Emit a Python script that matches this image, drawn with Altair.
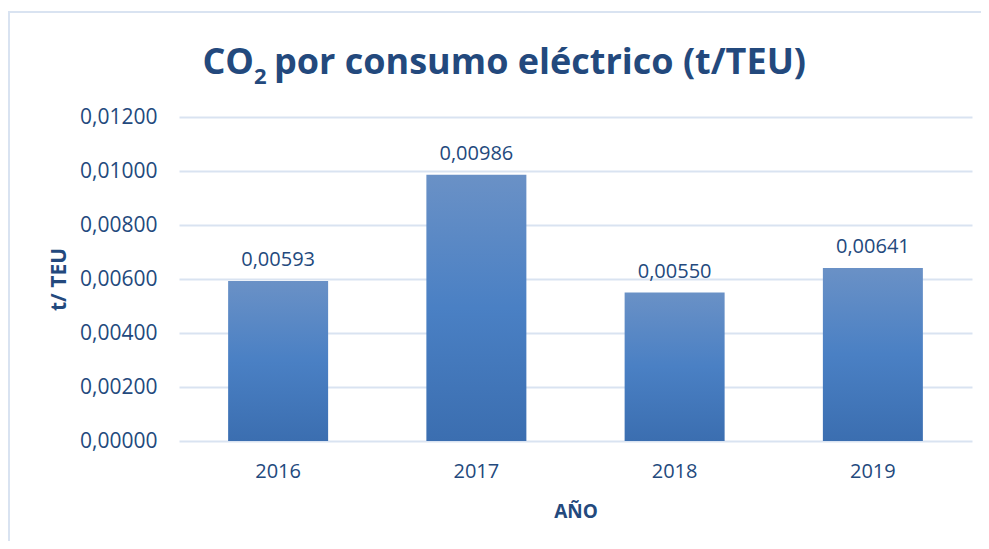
import altair as alt
import pandas as pd

years = ["2016", "2017", "2018", "2019"]
values = [0.00593, 0.00986, 0.00550, 0.00641]
y_ticks = [0.0, 0.002, 0.004, 0.006, 0.008, 0.010, 0.012]
title_main = ["CO"]
title_sub = ["2"]
title_rest = ["por consumo eléctrico (t/TEU)"]

df = pd.DataFrame({"year": years, "value": values})

DARK = "#23497d"
GRID = "#d9e3f1"
FONT = "Open Sans"

W, H = 793, 324
PL, PT = 171, 109

x_enc = alt.X("year:N", sort=years, title="AÑO",
              scale=alt.Scale(paddingInner=0.4956, paddingOuter=0.2478),
              axis=alt.Axis(labelAngle=0, labelFontSize=20, labelColor=DARK, labelFont=FONT,
                            labelPadding=20, ticks=False, domain=False,
                            titleFontSize=19, titleFont=FONT, titleColor=DARK,
                            titleFontWeight="bold", titlePadding=21))
y_enc = alt.Y("value:Q", title="t/ TEU",
              scale=alt.Scale(domain=[0, 0.012], nice=False),
              axis=alt.Axis(values=y_ticks, labelFontSize=21, labelColor=DARK, labelFont=FONT,
                            labelExpr="replace(format(datum.value, '.5f'), '.', ',')",
                            labelPadding=22, ticks=False, domain=False,
                            gridColor=GRID, gridWidth=2,
                            titleFontSize=21, titleFont=FONT, titleColor=DARK,
                            titleFontWeight="bold", titlePadding=10))

grad = alt.Gradient(gradient="linear", x1=0, y1=0, x2=0, y2=1,
                    stops=[alt.GradientStop(color="#6a91c6", offset=0),
                           alt.GradientStop(color="#4a80c4", offset=0.5),
                           alt.GradientStop(color="#3b6eb0", offset=1)])

bars = alt.Chart(df).mark_bar(color=grad).encode(x=x_enc, y=y_enc)

labels = alt.Chart(df).transform_calculate(
    lab="replace(format(datum.value, '.5f'), '.', ',')"
).mark_text(fontSize=20, font=FONT, color=DARK, baseline="alphabetic", dy=-15).encode(
    x=alt.X("year:N", sort=years), y="value:Q", text="lab:N")

t1 = alt.Chart(pd.DataFrame({"t": title_main})).mark_text(
    fontSize=36, font=FONT, fontWeight="bold", color=DARK, align="right", baseline="alphabetic"
).encode(x=alt.value(75), y=alt.value(-43), text="t:N")
t2 = alt.Chart(pd.DataFrame({"t": title_sub})).mark_text(
    fontSize=22, font=FONT, fontWeight="bold", color=DARK, align="left", baseline="alphabetic"
).encode(x=alt.value(75), y=alt.value(-33), text="t:N")
t3 = alt.Chart(pd.DataFrame({"t": title_rest})).mark_text(
    fontSize=36, font=FONT, fontWeight="bold", color=DARK, align="left", baseline="alphabetic"
).encode(x=alt.value(95), y=alt.value(-43), text="t:N")

border_top = alt.Chart(df).mark_rule(color=GRID, strokeWidth=2).encode(
    x=alt.value(-PL), x2=alt.value(W + 20), y=alt.value(-105))
border_left = alt.Chart(df).mark_rule(color=GRID, strokeWidth=2).encode(
    x=alt.value(-PL + 1), y=alt.value(-105), y2=alt.value(H + 110))

chart = alt.layer(bars, labels, t1, t2, t3, border_top, border_left).properties(
    width=W, height=H,
    autosize=alt.AutoSizeParams(type="none"),
    padding={"left": PL, "top": PT, "right": 9, "bottom": 100},
).configure_view(stroke=None)

chart.save("out.html", embed_options={"renderer": "svg", "actions": False})
